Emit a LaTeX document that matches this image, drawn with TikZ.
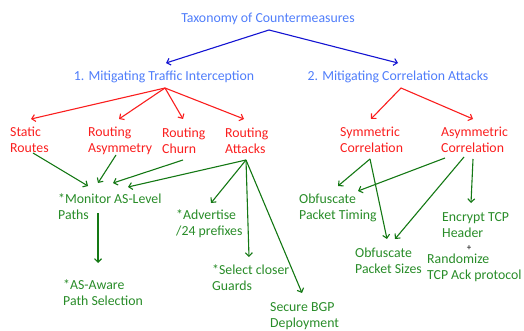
\documentclass[tikz,border=0pt]{standalone}
\usepackage{fontspec}
\setmainfont{Carlito}
\usetikzlibrary{arrows.meta}
\definecolor{txtblue}{RGB}{79,125,250}
\definecolor{arrblue}{RGB}{20,20,210}
\definecolor{txtred}{RGB}{250,30,30}
\definecolor{txtgreen}{RGB}{40,140,40}
\definecolor{arrgreen}{RGB}{20,120,20}
\tikzset{
	lbl/.style={inner sep=0pt, align=left, font=\fontsize{13.8}{16}\selectfont},
	toplbl/.style={lbl, text=txtblue},
	midlbl/.style={lbl, text=txtred, anchor=west},
	fixlbl/.style={lbl, text=txtgreen, anchor=west},
	barb/.style={-{Straight Barb[length=3.5pt,width=7pt]}, line width=1.1pt},
	bluearr/.style={barb, draw=arrblue},
	redarr/.style={barb, draw=txtred},
	greenarr/.style={barb, draw=arrgreen}
}

\begin{document}
\begin{tikzpicture}[x=1pt,y=-1pt]
		%%%%% START %%%%%
		\useasboundingbox (0,0) rectangle (524,331);
		
		\node[toplbl] (title) at (268,19) {Taxonomy of Countermeasures};
		\node[toplbl] (mti) at (164,77) {1. Mitigating Traffic Interception};
		\node[toplbl] (mca) at (398,77) {2. Mitigating Correlation Attacks};
		
		\draw[bluearr] ([shift={(1,11)}]title.center) -- ([shift={(2,-14)}]mti.center);
		\draw[bluearr] ([shift={(1,11)}]title.center) -- ([shift={(0,-14)}]mca.center);
		
		\node[midlbl] (static) at (10,140) {Static\\Routes};
		\node[midlbl] (asym) at (88,141) {Routing\\Asymmetry};
		\node[midlbl] (churn) at (162,141) {Routing\\Churn};
		\node[midlbl] (attacks) at (225,141) {Routing\\Attacks};
		\node[midlbl] (symcor) at (340,140) {Symmetric\\Correlation};
		\node[midlbl] (asycor) at (441,140) {Asymmetric\\Correlation};
		
		\draw[redarr] ([shift={(1,11)}]mti.center) -- ([shift={(21,-21)}]static.west);
		\draw[redarr] ([shift={(1,11)}]mti.center) -- ([shift={(31,-22)}]asym.west);
		\draw[redarr] ([shift={(1,11)}]mti.center) -- ([shift={(21,-22)}]churn.west);
		\draw[redarr] ([shift={(1,11)}]mti.center) -- ([shift={(19,-22)}]attacks.west);
		\draw[redarr] ([shift={(3,11)}]mca.center) -- ([shift={(31,-21)}]symcor.west);
		\draw[redarr] ([shift={(3,11)}]mca.center) -- ([shift={(32,-21)}]asycor.west);
		
		\node[fixlbl] (monitor) at (58,207) {*Monitor AS-Level\\Paths};
		\node[fixlbl] (aware) at (63,293) {*AS-Aware\\Path Selection};
		\node[fixlbl] (advert) at (176,224) {*Advertise\\/24 prefixes};
		\node[fixlbl] (guards) at (212,278) {*Select closer\\Guards};
		\node[fixlbl] (bgp) at (270,316) {Secure BGP\\Deployment};
		\node[fixlbl] (timing) at (299,208) {Obfuscate\\Packet Timing};
		\node[fixlbl] (sizes) at (355,261) {Obfuscate\\Packet Sizes};
		\node[fixlbl] (encrypt) at (442,225) {Encrypt TCP\\Header};
		\node[lbl, font=\fontsize{9}{10}\selectfont] (plus) at (469,248) {+};
		\node[fixlbl] (random) at (427,268) {Randomize\\TCP Ack protocol};
		
		\draw[greenarr] ([shift={(23,13)}]static.west) -- ([shift={(30,-21)}]monitor.west);
		\draw[greenarr] ([shift={(28,14)}]asym.west) -- ([shift={(40,-24)}]monitor.west);
		\draw[greenarr] ([shift={(21,19)}]churn.west) -- ([shift={(55,-24)}]monitor.west);
		\draw[greenarr] ([shift={(21,19)}]attacks.west) -- ([shift={(70,-20)}]monitor.west);
		\draw[greenarr] ([shift={(21,19)}]attacks.west) -- ([shift={(35,-21)}]advert.west);
		\draw[greenarr] ([shift={(21,19)}]attacks.west) -- ([shift={(37,-21)}]guards.west);
		\draw[greenarr] ([shift={(21,19)}]attacks.west) -- ([shift={(32,-23)}]bgp.west);
		\draw[greenarr] ([shift={(40,6)}]monitor.west) -- ([shift={(35,-30)}]aware.west);
		
		\draw[greenarr] ([shift={(30,19)}]symcor.west) -- ([shift={(39,-22)}]timing.west);
		\draw[greenarr] ([shift={(30,19)}]symcor.west) -- ([shift={(32,-22)}]sizes.west);
		\draw[greenarr] ([shift={(4,18)}]asycor.west) -- ([shift={(59,-17)}]timing.west);
		\draw[greenarr] ([shift={(23,17)}]asycor.west) -- ([shift={(40,-22)}]sizes.west);
		\draw[greenarr] ([shift={(32,19)}]asycor.west) -- ([shift={(29,-22)}]encrypt.west);
		
		%%%%% END %%%%%
	\end{tikzpicture}
\end{document}
